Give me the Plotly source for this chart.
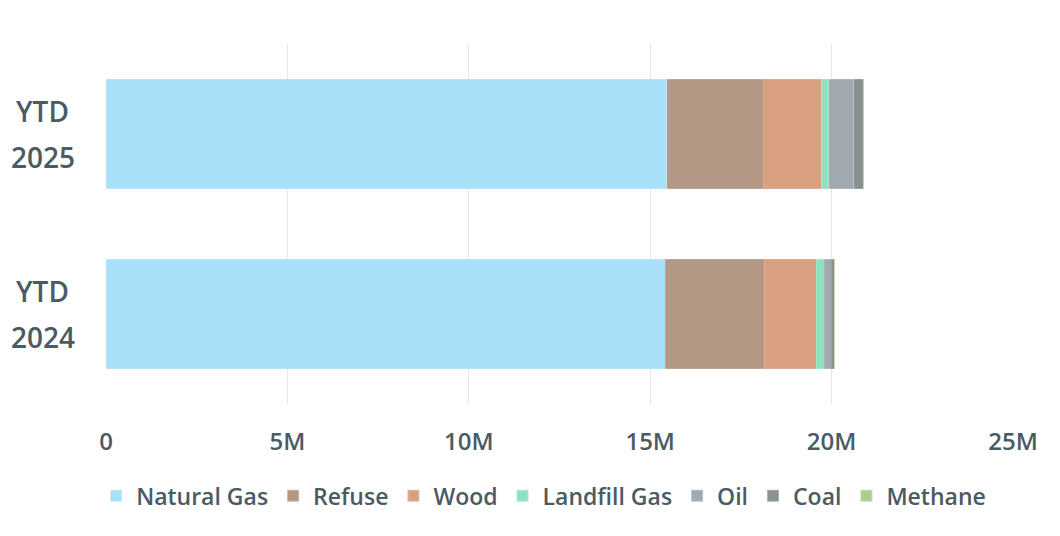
import plotly.graph_objects as go

categories = ["YTD 2024", "YTD 2025"]
category_labels = ["YTD<br>2024", "YTD<br>2025"]
series_names = ["Natural Gas", "Refuse", "Wood", "Landfill Gas", "Oil", "Coal", "Methane"]
natural_gas = [15.41e6, 15.46e6]
refuse = [2.74e6, 2.66e6]
wood = [1.42e6, 1.60e6]
landfill_gas = [0.23e6, 0.20e6]
oil = [0.19e6, 0.69e6]
coal = [0.08e6, 0.26e6]
methane = [0.01e6, 0.01e6]
colors = ["#a8e0fa", "#b39886", "#d9a081", "#8de2bf", "#a0a9af", "#899193", "#a7cf8e"]
tick_vals = [0, 5e6, 10e6, 15e6, 20e6, 25e6]
tick_text = ["0", "5M", "10M", "15M", "20M", "25M"]

values = [natural_gas, refuse, wood, landfill_gas, oil, coal, methane]
text_color = "#4b5b64"

fig = go.Figure()
for name, vals, col in zip(series_names, values, colors):
    fig.add_trace(go.Bar(
        y=categories, x=vals, name=name, orientation="h",
        marker=dict(color=col, line=dict(color="rgba(255,255,255,0.3)", width=0.5)),
    ))

# category labels: centred two-line text with wider line spacing
for cat, lab in zip(categories, category_labels):
    lines = lab.split("<br>")
    n = len(lines)
    for i, line in enumerate(lines):
        fig.add_annotation(
            xref="paper", yref="y", x=-0.0695, y=cat, text=line, showarrow=False,
            xanchor="center", yanchor="middle", align="center",
            yshift=(n - 1) / 2 * 46 - i * 46,
            font=dict(family="Open Sans", size=28, weight=600, color=text_color),
        )

fig.update_layout(
    barmode="stack",
    bargap=0.394,
    width=1060, height=536,
    margin=dict(l=98, r=55, t=36, b=140),
    plot_bgcolor="white", paper_bgcolor="white",
    font=dict(family="Open Sans", color=text_color),
    xaxis=dict(range=[0, 25e6], tickvals=tick_vals, ticktext=tick_text,
               showgrid=True, gridcolor="#e6e6e6", gridwidth=1, zeroline=False,
               tickfont=dict(size=24, weight=600, color=text_color), ticks="",
               showline=False, automargin=False, ticklabelstandoff=21),
    yaxis=dict(showticklabels=False, showgrid=False, ticks="", automargin=False,
               categoryorder="array", categoryarray=categories),
    legend=dict(orientation="h", x=0.4825, xanchor="center", y=-0.195, yanchor="top",
                font=dict(size=23, weight=600, color=text_color), traceorder="normal",
                itemsizing="constant"),
    showlegend=True,
)

fig.write_html("out.html")
